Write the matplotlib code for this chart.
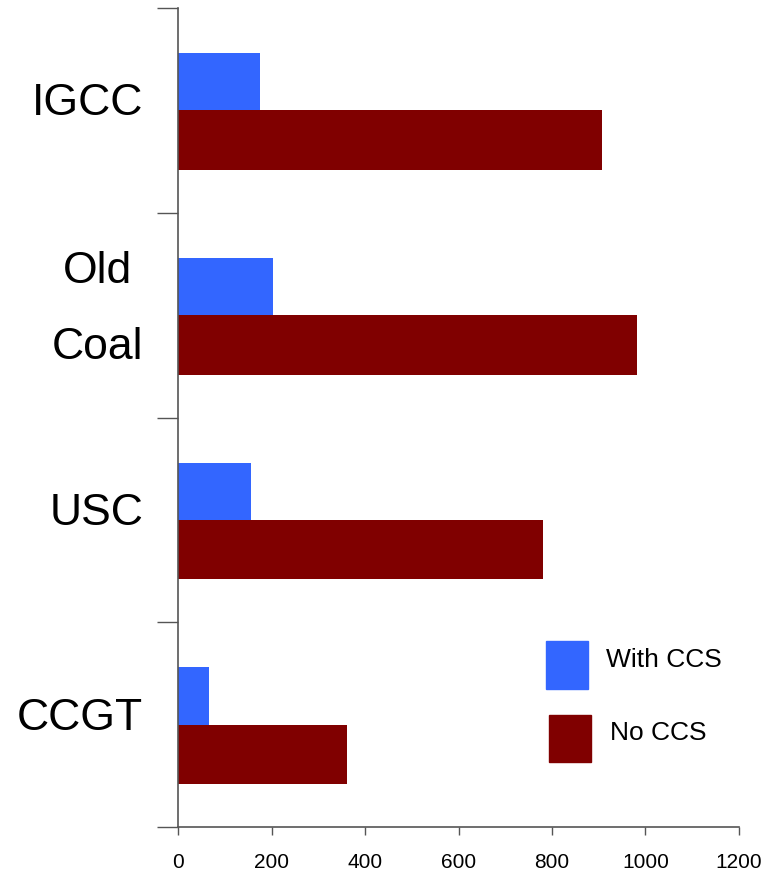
import matplotlib
matplotlib.use("Agg")
import matplotlib.pyplot as plt
import matplotlib.transforms as mtransforms
from matplotlib.patches import Rectangle
import numpy as np

plt.rcParams['font.family'] = ['Liberation Sans', 'DejaVu Sans']

# data
categories = ['IGCC', 'Old\nCoal', 'USC', 'CCGT']
with_ccs = [175, 203, 156, 66]
no_ccs = [907, 982, 781, 361]
x_ticks = [0, 200, 400, 600, 800, 1000, 1200]

blue = '#3366FF'
dark_red = '#800000'
axis_col = '#555555'

fig = plt.figure(figsize=(7.73, 8.76), dpi=100)
ax = fig.add_axes([0.2303, 0.0559, 0.7257, 0.935])

pos = np.arange(len(categories))
ax.barh(pos - 0.14, with_ccs, height=0.28, color=blue, label='With CCS')
ax.barh(pos + 0.145, no_ccs, height=0.29, color=dark_red, label='No CCS')

ax.set_xlim(0, 1200)
ax.set_ylim(len(categories) - 0.5, -0.5)

ax.set_xticks(x_ticks)
ax.set_xticklabels([str(v) for v in x_ticks], fontsize=15)
ax.tick_params(axis='x', direction='out', length=6, width=1, color=axis_col, pad=13)

# major y ticks at band boundaries, labels on minor ticks at centres
ax.set_yticks(np.arange(-0.5, len(categories), 1.0))
ax.set_yticklabels([])
ax.set_yticks(pos, minor=True)
ax.set_yticklabels(categories, minor=True, fontsize=32, linespacing=2.1,
                   multialignment='center')
ax.tick_params(axis='y', which='major', direction='out', length=15, width=1, color=axis_col)
ax.tick_params(axis='y', which='minor', length=0, pad=25)
for lab in ax.get_yticklabels(minor=True):
    up = 20 if '\n' in lab.get_text() else 8
    shift = mtransforms.ScaledTranslation(0, up / 72, fig.dpi_scale_trans)
    lab.set_transform(lab.get_transform() + shift)

for s in ['top', 'right']:
    ax.spines[s].set_visible(False)
for s in ['left', 'bottom']:
    ax.spines[s].set_color(axis_col)
    ax.spines[s].set_linewidth(1.2)

# hand-placed legend like the original
ax.add_patch(Rectangle((0.656, 0.1685), 0.0749, 0.0586, transform=ax.transAxes,
                       color=blue, clip_on=False))
ax.add_patch(Rectangle((0.661, 0.0794), 0.0749, 0.0574, transform=ax.transAxes,
                       color=dark_red, clip_on=False))
ax.text(0.763, 0.204, 'With CCS', transform=ax.transAxes, fontsize=19, va='center')
ax.text(0.770, 0.115, 'No CCS', transform=ax.transAxes, fontsize=19, va='center')

fig.savefig('out.png', dpi=100)
